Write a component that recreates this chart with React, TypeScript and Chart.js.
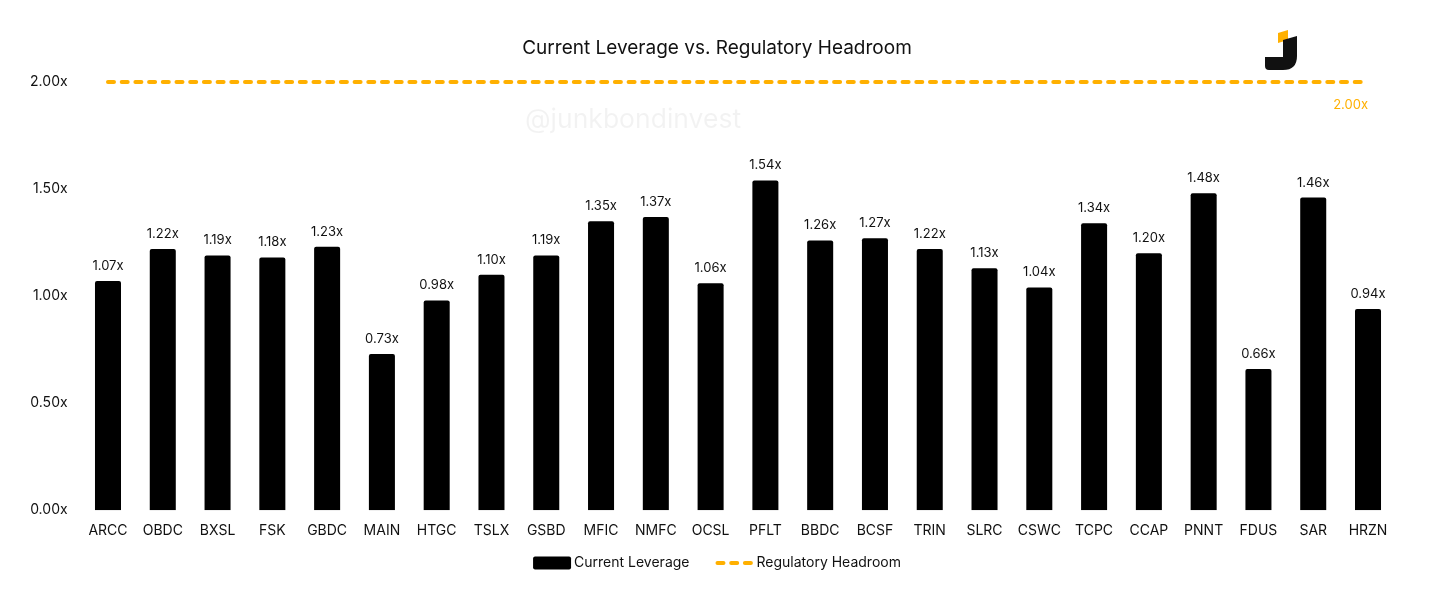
import React, { useEffect, useRef } from "react";
import { Chart, registerables } from "chart.js";

Chart.register(...registerables);

const categories = ["ARCC", "OBDC", "BXSL", "FSK", "GBDC", "MAIN", "HTGC", "TSLX", "GSBD", "MFIC", "NMFC", "OCSL", "PFLT", "BBDC", "BCSF", "TRIN", "SLRC", "CSWC", "TCPC", "CCAP", "PNNT", "FDUS", "SAR", "HRZN"];
const currentLeverage = [1.07, 1.22, 1.19, 1.18, 1.23, 0.73, 0.98, 1.10, 1.19, 1.35, 1.37, 1.06, 1.54, 1.26, 1.27, 1.22, 1.13, 1.04, 1.34, 1.20, 1.48, 0.66, 1.46, 0.94];
const regulatoryHeadroom = [2, 2, 2, 2, 2, 2, 2, 2, 2, 2, 2, 2, 2, 2, 2, 2, 2, 2, 2, 2, 2, 2, 2, 2];
const yTicks = [0, 0.5, 1.0, 1.5, 2.0];

const TITLE = "Current Leverage vs. Regulatory Headroom";
const WATERMARK = "@junkbondinvest";
const ORANGE = "#FFB000";
const FONT = "Inter, 'Noto Sans', sans-serif";

const decorPlugin = {
  id: "decor",
  afterDraw(chart: any) {
    const ctx = chart.ctx;
    const cx = chart.width / 2 - 11;
    ctx.save();
    // title
    ctx.fillStyle = "#111";
    ctx.font = `400 19px ${FONT}`;
    ctx.textAlign = "center";
    ctx.textBaseline = "middle";
    ctx.fillText(TITLE, cx, 40);
    // watermark
    ctx.fillStyle = "rgba(0,0,0,0.05)";
    ctx.font = `400 26.5px ${FONT}`;
    ctx.textAlign = "left";
    ctx.fillText(WATERMARK, 517, 112);
    // logo
    ctx.fillStyle = ORANGE;
    ctx.beginPath();
    ctx.moveTo(1270, 25);
    ctx.lineTo(1280, 22);
    ctx.lineTo(1280, 32);
    ctx.lineTo(1270, 35);
    ctx.closePath();
    ctx.fill();
    ctx.fillStyle = "#111";
    ctx.beginPath();
    ctx.moveTo(1275, 32);
    ctx.lineTo(1289, 28);
    ctx.lineTo(1289, 48);
    ctx.quadraticCurveTo(1289, 62, 1275, 62);
    ctx.lineTo(1261, 62);
    ctx.quadraticCurveTo(1257, 62, 1257, 58);
    ctx.lineTo(1257, 49);
    ctx.lineTo(1275, 49);
    ctx.closePath();
    ctx.fill();
    // headroom label
    const xs = chart.scales.x;
    const ys = chart.scales.y;
    ctx.fillStyle = ORANGE;
    ctx.font = `400 13px ${FONT}`;
    ctx.textAlign = "right";
    ctx.fillText("2.00x", xs.getPixelForValue(categories.length - 1), ys.getPixelForValue(2) + 23);
    // bar value labels
    const meta = chart.getDatasetMeta(0);
    ctx.fillStyle = "#111";
    ctx.textAlign = "center";
    ctx.font = `400 13px ${FONT}`;
    meta.data.forEach((bar: any, i: number) => {
      ctx.fillText(currentLeverage[i].toFixed(2) + "x", bar.x, bar.y - 15);
    });
    // legend
    ctx.font = `400 14px ${FONT}`;
    ctx.textAlign = "left";
    const t1 = "Current Leverage";
    const t2 = "Regulatory Headroom";
    const w1 = ctx.measureText(t1).width;
    const w2 = ctx.measureText(t2).width;
    const box = 38;
    const gap = 3;
    const between = 26;
    const total = box + gap + w1 + between + box + gap + w2;
    let lx = cx - total / 2;
    const ly = 555;
    ctx.fillStyle = "#000";
    ctx.beginPath();
    ctx.roundRect(lx, ly - 6.5, box, 13, 2);
    ctx.fill();
    lx += box + gap;
    ctx.fillStyle = "#111";
    ctx.fillText(t1, lx, ly);
    lx += w1 + between;
    ctx.strokeStyle = ORANGE;
    ctx.lineWidth = 4;
    ctx.lineCap = "round";
    ctx.setLineDash([6, 7.7]);
    ctx.beginPath();
    ctx.moveTo(lx + 2, ly);
    ctx.lineTo(lx + box - 2, ly);
    ctx.stroke();
    ctx.setLineDash([]);
    lx += box + gap;
    ctx.fillStyle = "#111";
    ctx.fillText(t2, lx, ly);
    ctx.restore();
  },
};

export default function App() {
  const ref = useRef<HTMLCanvasElement | null>(null);
  useEffect(() => {
    if (!ref.current) return;
    const chart = new Chart(ref.current, {
      type: "bar",
      data: {
        labels: categories,
        datasets: [
          {
            type: "bar",
            label: "Current Leverage",
            data: currentLeverage,
            backgroundColor: "#000",
            borderRadius: 2,
            barPercentage: 0.95,
            categoryPercentage: 0.5,
            order: 2,
          },
          {
            type: "line",
            label: "Regulatory Headroom",
            data: regulatoryHeadroom,
            borderColor: ORANGE,
            backgroundColor: ORANGE,
            borderWidth: 4,
            borderDash: [6, 7.7],
            borderCapStyle: "round",
            pointRadius: 0,
            pointHoverRadius: 0,
            clip: false,
            order: 1,
          } as any,
        ],
      },
      options: {
        responsive: true,
        maintainAspectRatio: false,
        animation: false,
        layout: { padding: { top: 74, right: 52.6, bottom: 38, left: 0 } },
        plugins: {
          legend: { display: false },
          title: { display: false },
          tooltip: { enabled: false },
        },
        scales: {
          x: {
            grid: { display: false, drawTicks: false },
            border: { display: false },
            ticks: { color: "#111", font: { family: FONT, size: 14 }, padding: 12, maxRotation: 0, autoSkip: false },
          },
          y: {
            min: 0,
            max: 2,
            grid: { display: false, drawTicks: false },
            border: { display: false },
            afterFit: (s: any) => { s.width = 72.6; },
            afterBuildTicks: (s: any) => { s.ticks = yTicks.map((v) => ({ value: v })); },
            ticks: {
              color: "#111",
              font: { family: FONT, size: 14 },
              padding: 13,
              callback: (v: any) => Number(v).toFixed(2) + "x",
            },
          },
        },
      },
      plugins: [decorPlugin],
    });
    return () => chart.destroy();
  }, []);
  return (
    <div style={{ width: 1440, height: 581 }}>
      <canvas ref={ref} />
    </div>
  );
}
